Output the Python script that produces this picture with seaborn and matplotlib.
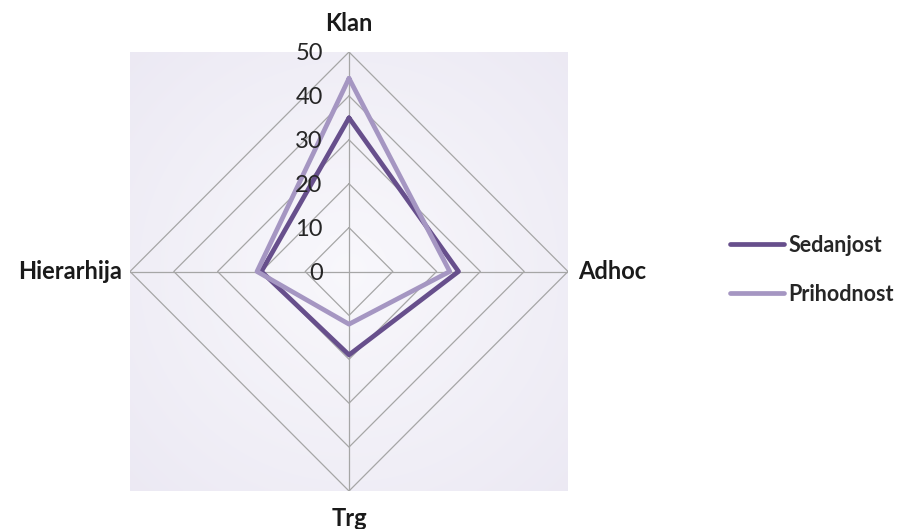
import numpy as np
import pandas as pd
import matplotlib
matplotlib.use("Agg")
import matplotlib.pyplot as plt
import seaborn as sns

# Radar data
categories = ["Klan", "Adhoc", "Trg", "Hierarhija"]
sedanjost = [35, 25, 19, 20]
prihodnost = [44, 23, 12, 21]
tick_values = [0, 10, 20, 30, 40, 50]
series_names = ["Sedanjost", "Prihodnost"]
series_colors = ["#674f8c", "#a596c2"]

sns.set_theme(style="white")
plt.rcParams["font.family"] = ["Lato", "DejaVu Sans"]

# Spokes point up, right, down, left (clockwise from top)
angles = np.pi / 2 - np.arange(len(categories)) * 2 * np.pi / len(categories)
rmax = tick_values[-1]

rows = []
for name, vals in zip(series_names, [sedanjost, prihodnost]):
    closed = list(vals) + [vals[0]]
    closed_ang = list(angles) + [angles[0]]
    for i, (v, a) in enumerate(zip(closed, closed_ang)):
        rows.append({"serija": name, "order": i,
                     "x": v * np.cos(a), "y": v * np.sin(a)})
df = pd.DataFrame(rows)

W, H = 908, 529
fig = plt.figure(figsize=(W / 100, H / 100), dpi=100)
fig.patch.set_facecolor("white")
ax = fig.add_axes([130 / W, (H - 491) / H, 438 / W, 439 / H])

# Soft lavender background of the plot area
gx, gy = np.meshgrid(np.linspace(-1, 1, 200), np.linspace(-1, 1, 200))
rr = np.clip(np.sqrt(gx ** 2 + gy ** 2) / 1.42, 0, 1)
c_in = np.array([0.975, 0.972, 0.988])
c_out = np.array([0.925, 0.915, 0.955])
bg = c_in[None, None, :] * (1 - rr[..., None]) + c_out[None, None, :] * rr[..., None]
ax.imshow(bg, extent=[-rmax, rmax, -rmax, rmax], origin="lower", zorder=0,
          interpolation="bilinear", aspect="auto")

# Diamond grid rings and spokes
grid_color = "#a6a6a6"
for t in tick_values[1:]:
    ring_x = [t * np.cos(a) for a in angles] + [t * np.cos(angles[0])]
    ring_y = [t * np.sin(a) for a in angles] + [t * np.sin(angles[0])]
    ax.plot(ring_x, ring_y, color=grid_color, lw=0.9, zorder=1)
for a in angles:
    ax.plot([0, rmax * np.cos(a)], [0, rmax * np.sin(a)], color=grid_color, lw=0.9, zorder=1)

# Series polygons
sns.lineplot(data=df, x="x", y="y", hue="serija", units="serija", estimator=None,
             sort=False, palette=dict(zip(series_names, series_colors)),
             linewidth=3.4, ax=ax, legend=False, zorder=3)

# Value scale along the top spoke
for t in tick_values:
    ax.text(-6.0, t - 0.4, str(t), ha="right", va="center", fontsize=17, color="#262626", zorder=4)

ax.set_xlim(-rmax, rmax)
ax.set_ylim(-rmax, rmax)
ax.set_xticks([])
ax.set_yticks([])
ax.set_xlabel("")
ax.set_ylabel("")
for s in ax.spines.values():
    s.set_visible(False)

# Category labels
lab_kw = dict(fontsize=17, fontweight="bold", color="#1a1a1a")
ax.text(0, rmax + 6.6, categories[0], ha="center", va="center", **lab_kw)
ax.text(rmax + 2.2, 0, categories[1], ha="left", va="center", **lab_kw)
ax.text(0, -rmax - 6.3, categories[2], ha="center", va="center", **lab_kw)
ax.text(-rmax - 1.8, 0, categories[3], ha="right", va="center", **lab_kw)

# Legend
handles = [plt.Line2D([], [], color=c, lw=3.4) for c in series_colors]
fig.legend(handles, series_names, loc="center left", bbox_to_anchor=(711 / W, 1 - 270 / H),
           frameon=False, handlelength=2.5, handletextpad=0.2, labelspacing=1.3,
           prop={"family": ["Lato", "DejaVu Sans"], "weight": "bold", "size": 15.5})

fig.savefig("out.png", dpi=100)
